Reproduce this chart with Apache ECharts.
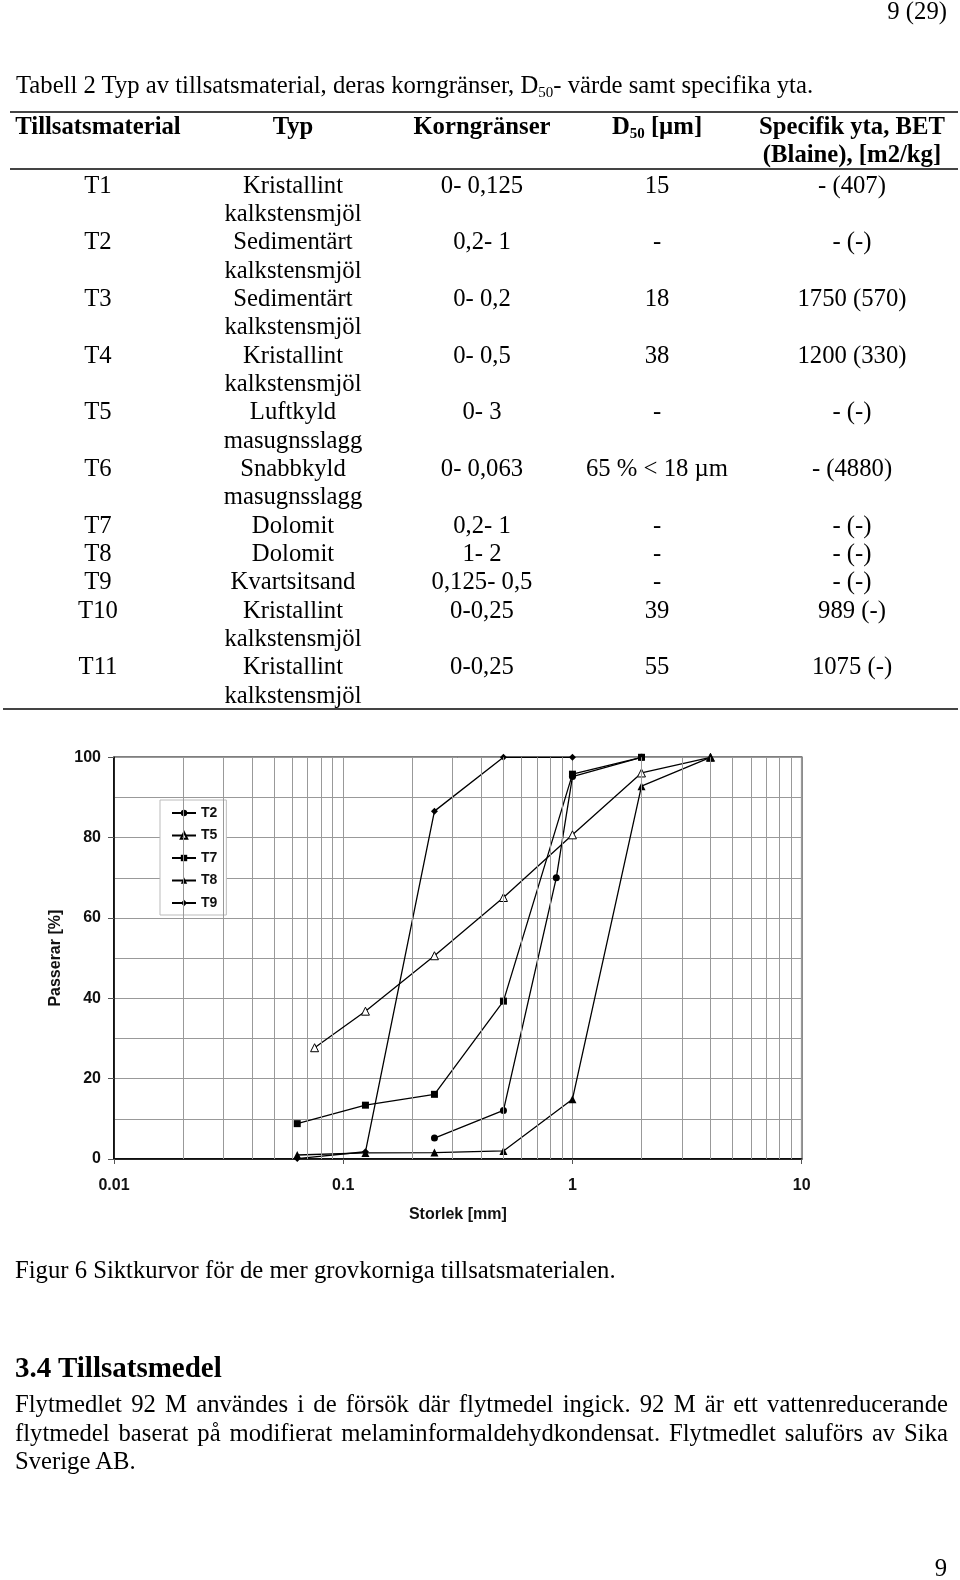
<!DOCTYPE html>
<html>
<head>
<meta charset="utf-8">
<script src="https://cdn.jsdelivr.net/npm/echarts@6/dist/echarts.min.js"></script>
<style>
  html, body { margin:0; padding:0; background:#fff; }
  #page { position:relative; width:960px; height:1580px; overflow:hidden; }
  #chart { position:absolute; left:0; top:0; width:960px; height:1580px; z-index:0; }
  .t { position:absolute; font-family:'Liberation Serif','Times New Roman',serif; color:#000; white-space:nowrap; z-index:2; }
  .rule { position:absolute; height:2px; background:#444; z-index:2; }
  sub { font-size:15px; vertical-align:baseline; position:relative; top:4px; }
</style>
</head>
<body>
<div id="page">
  <div id="chart"></div>
</div>
<script>
// ---------- Table data ----------
const matIds   = ['T1','T2','T3','T4','T5','T6','T7','T8','T9','T10','T11'];
const matTyp   = [['Kristallint','kalkstensmjöl'],['Sedimentärt','kalkstensmjöl'],['Sedimentärt','kalkstensmjöl'],
                  ['Kristallint','kalkstensmjöl'],['Luftkyld','masugnsslagg'],['Snabbkyld','masugnsslagg'],
                  ['Dolomit'],['Dolomit'],['Kvartsitsand'],['Kristallint','kalkstensmjöl'],['Kristallint','kalkstensmjöl']];
const matKorn  = ['0- 0,125','0,2- 1','0- 0,2','0- 0,5','0- 3','0- 0,063','0,2- 1','1- 2','0,125- 0,5','0-0,25','0-0,25'];
const matD50   = ['15','-','18','38','-','65 % < 18 µm','-','-','-','39','55'];
const matSpec  = ['- (407)','- (-)','1750 (570)','1200 (330)','- (-)','- (4880)','- (-)','- (-)','- (-)','989 (-)','1075 (-)'];

// ---------- Chart data (sieve size [mm], passing [%]) ----------
const seriesNames = ['T2','T5','T7','T8','T9'];
const sizeT2 = [0.25, 0.5, 0.85, 1, 2];
const passT2 = [5.2, 12.1, 70.0, 95.2, 100];
const sizeT5 = [0.075, 0.125, 0.25, 0.5, 1, 2, 4];
const passT5 = [27.7, 36.8, 50.6, 65.1, 80.7, 96.1, 100];
const sizeT7 = [0.063, 0.125, 0.25, 0.5, 1, 2];
const passT7 = [8.8, 13.4, 16.1, 39.3, 95.8, 100];
const sizeT8 = [0.063, 0.125, 0.25, 0.5, 1, 2, 4];
const passT8 = [1.0, 1.5, 1.6, 2.0, 14.9, 92.8, 100];
const sizeT9 = [0.063, 0.125, 0.25, 0.5, 1];
const passT9 = [0.1, 1.8, 86.6, 100, 100];
const xTickLabels = ['0.01','0.1','1','10'];
const minorGridX = [0.02,0.03,0.04,0.05,0.06,0.07,0.08,0.09,0.2,0.3,0.4,0.5,0.6,0.7,0.8,0.9,2,3,4,5,6,7,8,9];

// ---------- Text placement helper ----------
const page = document.getElementById('page');
const BODY = 24.7;
function place(html, o) {
  const size = o.size || BODY;
  const lh = size * 1.25;
  const d = document.createElement('div');
  d.className = 't';
  d.innerHTML = html;
  d.style.fontSize = size + 'px';
  d.style.lineHeight = lh + 'px';
  if (o.bold) d.style.fontWeight = 'bold';
  const off = (lh - 1.107 * size) / 2 + 0.891 * size;
  d.style.top = (o.baseline - off) + 'px';
  if (o.center !== undefined) {
    d.style.left = (o.center - 200) + 'px'; d.style.width = '400px'; d.style.textAlign = 'center';
  } else if (o.right !== undefined) {
    d.style.right = (960 - o.right) + 'px'; d.style.textAlign = 'right';
  } else {
    d.style.left = o.left + 'px';
    if (o.width) {
      d.style.width = o.width + 'px'; d.style.whiteSpace = 'normal';
      if (o.justify) { d.style.textAlign = 'justify'; d.style.textAlignLast = 'justify'; }
    }
  }
  page.appendChild(d);
}
function rule(x1, x2, y) {
  const r = document.createElement('div');
  r.className = 'rule';
  r.style.left = x1 + 'px'; r.style.width = (x2 - x1) + 'px'; r.style.top = (y - 1) + 'px';
  page.appendChild(r);
}

place('9 (29)', {right: 947, baseline: 20});
place('Tabell 2 Typ av tillsatsmaterial, deras korngränser, D<sub>50</sub>- värde samt specifika yta.', {left: 16, baseline: 93.3});
rule(10, 958, 111.7);
const colX = [98, 293, 482, 657, 852];
place('Tillsatsmaterial', {center: colX[0], baseline: 135, bold: true});
place('Typ', {center: colX[1], baseline: 135, bold: true});
place('Korngränser', {center: colX[2], baseline: 135, bold: true});
place('D<sub>50</sub> [µm]', {center: colX[3], baseline: 135, bold: true});
place('Specifik yta, BET', {center: colX[4], baseline: 135, bold: true});
place('(Blaine), [m2/kg]', {center: colX[4], baseline: 162.5, bold: true});
rule(10, 958, 168.8);

const rowStep = 28.35;
let base = 193.3;
for (let i = 0; i < matIds.length; i++) {
  place(matIds[i], {center: colX[0], baseline: base});
  place(matKorn[i], {center: colX[2], baseline: base});
  place(matD50[i].replace('<', '&lt;'), {center: colX[3], baseline: base});
  place(matSpec[i], {center: colX[4], baseline: base});
  for (let k = 0; k < matTyp[i].length; k++) {
    place(matTyp[i][k], {center: colX[1], baseline: base + k * rowStep});
  }
  base += matTyp[i].length * rowStep;
}
rule(3, 958, 708.8);

place('Figur 6 Siktkurvor för de mer grovkorniga tillsatsmaterialen.', {left: 15, baseline: 1279});
place('3.4 Tillsatsmedel', {left: 15, baseline: 1377, size: 29, bold: true});
place('Flytmedlet 92 M användes i de försök där flytmedel ingick. 92 M är ett vattenreducerande', {left: 15, width: 933, baseline: 1413, justify: true});
place('flytmedel baserat på modifierat melaminformaldehydkondensat. Flytmedlet saluförs av Sika', {left: 15, width: 933, baseline: 1441.3, justify: true});
place('Sverige AB.', {left: 15, baseline: 1469.5});
place('9', {right: 947, baseline: 1577});

// ---------- Chart ----------
const sans = "'Liberation Sans', Arial, sans-serif";
const zip = (xs, ys) => xs.map((x, i) => [x, ys[i]]);
const mk = (name, xs, ys, symbol, size, fill) => ({
  name, type: 'line', data: zip(xs, ys), symbol, symbolSize: size, clip: false, z: 3,
  lineStyle: {color: '#000', width: 1.3},
  itemStyle: {color: fill, borderColor: '#000', borderWidth: fill === '#fff' ? 1 : 0},
  emphasis: {disabled: true}
});

const chart = echarts.init(document.getElementById('chart'), null, {renderer: 'canvas'});
chart.setOption({
  animation: false,
  grid: {left: 114, top: 757.3, width: 687.7, height: 401.7, show: true, borderColor: '#000', borderWidth: 1.5, backgroundColor: 'transparent'},
  legend: {
    data: seriesNames, orient: 'vertical', left: 160, top: 800,
    padding: [6, 9, 5, 11], itemWidth: 24, itemHeight: 8, itemGap: 8.5,
    borderColor: '#bbb', borderWidth: 1, backgroundColor: '#fff', selectedMode: false,
    textStyle: {fontFamily: sans, fontSize: 14, fontWeight: 'bold', color: '#111', lineHeight: 14}
  },
  xAxis: {
    type: 'log', logBase: 10, min: 0.01, max: 10,
    name: 'Storlek [mm]', nameLocation: 'middle', nameGap: 48,
    nameTextStyle: {fontFamily: sans, fontSize: 16, fontWeight: 'bold', color: '#111'},
    axisLine: {show: true, lineStyle: {color: '#000', width: 1.5}},
    axisTick: {show: true, length: 5, lineStyle: {color: '#555'}},
    axisLabel: {margin: 19, fontFamily: sans, fontSize: 16, fontWeight: 'bold', color: '#111',
      formatter: v => { const s = String(parseFloat(Number(v).toPrecision(2))); return xTickLabels.includes(s) ? s : ''; }},
    splitLine: {show: true, lineStyle: {color: '#999', width: 1}}
  },
  yAxis: {
    type: 'value', min: 0, max: 100, interval: 20,
    name: 'Passerar [%]', nameLocation: 'middle', nameGap: 50, nameRotate: 90,
    nameTextStyle: {fontFamily: sans, fontSize: 16, fontWeight: 'bold', color: '#111'},
    axisLine: {show: true, lineStyle: {color: '#000', width: 1.5}},
    axisTick: {show: true, length: 6, lineStyle: {color: '#555'}},
    axisLabel: {margin: 13, fontFamily: sans, fontSize: 16, fontWeight: 'bold', color: '#111'},
    splitLine: {show: true, lineStyle: {color: '#999', width: 1}},
    minorTick: {show: false, splitNumber: 2},
    minorSplitLine: {show: true, lineStyle: {color: '#999', width: 1}}
  },
  series: [
    {name: 'grid', type: 'line', data: [], silent: true, z: 1,
     markLine: {silent: true, symbol: ['none', 'none'], animation: false, label: {show: false},
       lineStyle: {color: '#999', width: 1, type: 'solid'}, emphasis: {disabled: true},
       data: minorGridX.map(v => ({xAxis: v}))}},
    mk('T2', sizeT2, passT2, 'circle', 7, '#000'),
    mk('T5', sizeT5, passT5, 'triangle', 8, '#fff'),
    mk('T7', sizeT7, passT7, 'rect', 7, '#000'),
    mk('T8', sizeT8, passT8, 'triangle', 8, '#000'),
    mk('T9', sizeT9, passT9, 'diamond', 7, '#000')
  ]
});
</script>
</body>
</html>
